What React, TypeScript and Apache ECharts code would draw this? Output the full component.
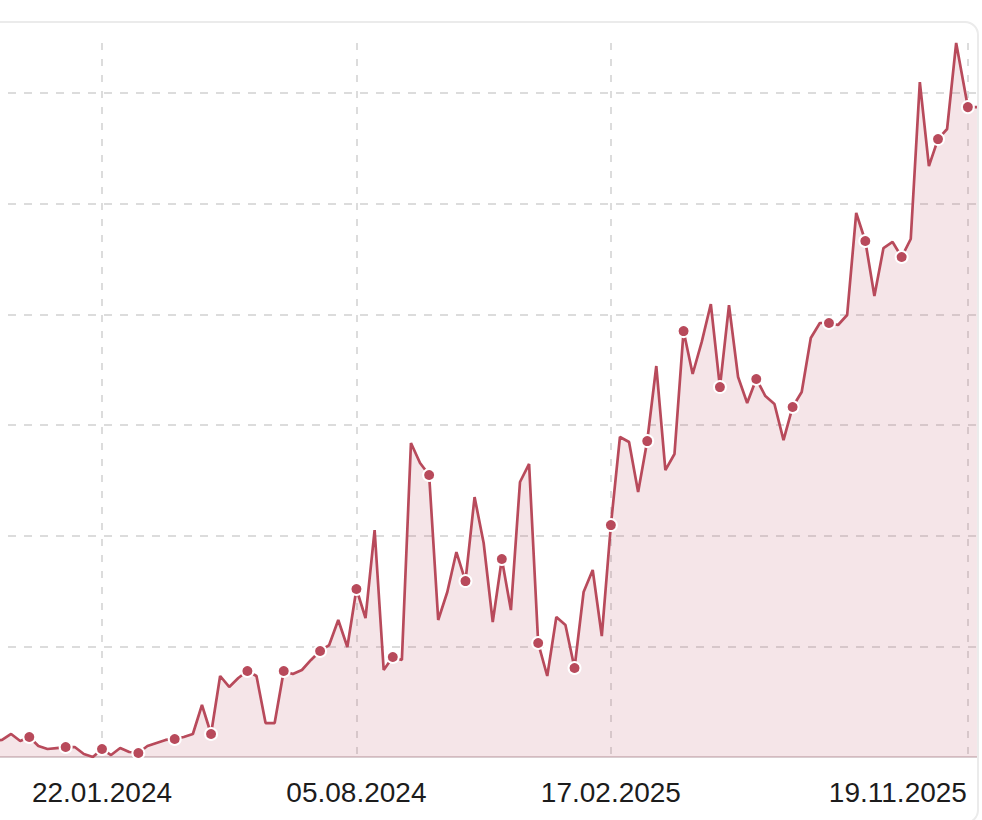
import React, { useEffect, useRef } from "react";
import * as echarts from "echarts";

// Weekly samples (Mondays), the first one on 30.10.2023
const FIRST_WEEK = "2023-10-30";
const weeklyValues = [
  14.5, 15.4, 20.8, 14.5, 18.1, 9.9, 7.2, 8.1, 9.0, 9.0, 2.7, 0,
  7.2, 1.8, 8.1, 4.5, 3.6, 9.9, 12.7, 15.4, 16.3, 18.1, 20.8, 47.0,
  20.8, 73.2, 63.3, 71.4, 77.7, 73.2, 30.7, 30.7, 77.7, 75.0, 78.6, 87.7,
  95.8, 101.2, 123.8, 99.4, 151.8, 125.6, 205.1, 78.6, 90.4, 87.7, 283.7, 265.7,
  254.8, 123.8, 149.1, 185.2, 159.0, 234.9, 193.4, 122.0, 178.9, 132.8, 248.5, 264.8,
  103.0, 73.2, 126.5, 119.3, 80.4, 149.1, 169.0, 109.3, 209.6, 289.2, 284.6, 239.5,
  285.5, 353.3, 259.3, 273.8, 384.9, 346.1, 375.1, 409.3, 334.3, 408.4, 343.4, 319.9,
  341.6, 326.2, 319.0, 286.4, 316.3, 329.8, 378.6, 392.2, 392.2, 390.4, 399.4, 491.6,
  466.3, 416.6, 459.9, 465.4, 451.8, 468.1, 609.9, 534.0, 558.4, 567.5, 645.2,
];
// Latest samples after the weekly series
const latestDates = ["2025-11-19", "2025-11-26"];
const latestValues = [587.3, 587.3];

// Dates shown on the x axis
const tickDates = ["2024-01-22", "2024-08-05", "2025-02-17", "2025-11-19"];

const LINE_COLOR = "#b84a5b";

function toTime(s: string, addDays = 0): number {
  const [y, m, d] = s.split("-").map(Number);
  return new Date(y, m - 1, d + addDays).getTime();
}

function pad(n: number): string {
  return n < 10 ? "0" + n : String(n);
}

function fmt(t: number): string {
  const d = new Date(t);
  return pad(d.getDate()) + "." + pad(d.getMonth() + 1) + "." + d.getFullYear();
}

export default function App() {
  const ref = useRef<HTMLDivElement | null>(null);

  useEffect(() => {
    if (!ref.current) return;
    const chart = echarts.init(ref.current, null, { renderer: "svg" });

    const data: [number, number][] = weeklyValues.map((v, i) => [
      toTime(FIRST_WEEK, i * 7),
      v,
    ]);
    latestDates.forEach((d, i) => data.push([toTime(d), latestValues[i]]));
    const nWeekly = weeklyValues.length;
    const dotIndex = nWeekly; // the 19.11.2025 sample
    const tickTimes = tickDates.map((d) => toTime(d));
    const lastTick = tickTimes[tickTimes.length - 1];

    // axis window: 22.01.2024 sits 102px in, 9.087px per week
    const DAY = 86400000;
    const pxPerDay = 9.087 / 7;
    const t0 = toTime("2024-01-22");
    const xMin = t0 - (102 / pxPerDay) * DAY;
    const xMax = t0 + (875 / pxPerDay) * DAY;

    chart.setOption({
      animation: false,
      grid: { left: 0, right: 0, top: 43, bottom: 63, containLabel: false },
      xAxis: {
        type: "value",
        min: xMin,
        max: xMax,
        axisLine: { show: true, onZero: false, lineStyle: { color: "#d9cdd0", width: 2 } },
        axisTick: { show: false, customValues: tickTimes },
        axisLabel: {
          customValues: tickTimes,
          hideOverlap: false,
          fontSize: 28,
          fontFamily: "Liberation Sans, Arial, sans-serif",
          color: "#1c1c1c",
          margin: 21,
          formatter: (val: number) => {
            const s = fmt(val);
            return val === lastTick ? "{r|" + s + "}" : s;
          },
          rich: {
            r: {
              width: 278,
              align: "left",
              fontSize: 28,
              fontFamily: "Liberation Sans, Arial, sans-serif",
              color: "#1c1c1c",
            },
          },
        },
        splitLine: {
          show: true,
          showMinLine: true,
          showMaxLine: true,
          lineStyle: { color: "#dcdcdc", width: 2, type: [7, 9] },
        },
      },
      yAxis: {
        type: "value",
        min: 0,
        max: "dataMax",
        interval: 100,
        axisLabel: { show: false },
        axisLine: { show: false },
        axisTick: { show: false },
        splitLine: {
          show: true,
          showMinLine: false,
          showMaxLine: false,
          lineStyle: { color: "#dcdcdc", width: 2, type: [8, 8], dashOffset: 8 },
        },
      },
      series: [
        {
          type: "line",
          data,
          showAllSymbol: true,
          clip: true,
          symbol: (_v: any, p: any) =>
            (p.dataIndex < nWeekly && p.dataIndex % 4 === 0) || p.dataIndex === dotIndex
              ? "circle"
              : "none",
          symbolSize: 12,
          lineStyle: { color: LINE_COLOR, width: 2.7 },
          itemStyle: { color: LINE_COLOR, borderColor: "#ffffff", borderWidth: 2 },
          areaStyle: { color: "rgba(184,74,91,0.2)" },
          emphasis: { disabled: true },
        },
      ],
    });

    return () => chart.dispose();
  }, []);

  return (
    <div
      style={{
        position: "absolute",
        left: 0,
        top: 0,
        width: 982,
        height: 820,
        overflow: "hidden",
        background: "#ffffff",
      }}
    >
      <div
        ref={ref}
        style={{ position: "absolute", left: 0, top: 0, width: 977, height: 820 }}
      />
      <div
        style={{
          position: "absolute",
          left: -30,
          top: 21,
          width: 1009,
          height: 803,
          boxSizing: "border-box",
          border: "2px solid #ebebeb",
          borderRadius: 14,
          pointerEvents: "none",
        }}
      />
    </div>
  );
}
